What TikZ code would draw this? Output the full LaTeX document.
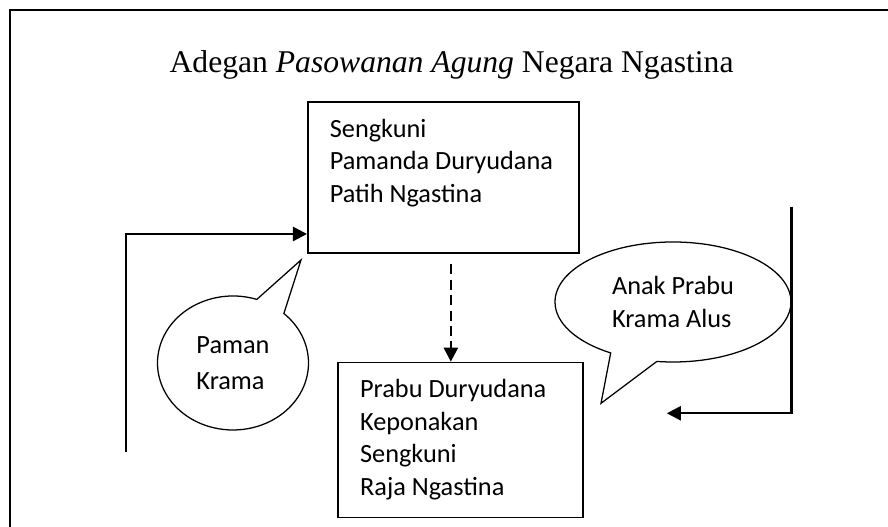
\documentclass[tikz,border=0pt]{standalone}
\usepackage{fontspec}
\setmainfont{Liberation Serif}
\newfontfamily\isi{Carlito}
\usetikzlibrary{arrows.meta,shapes.callouts,positioning}

\tikzset{
  kotak/.style={draw, line width=1.2pt, inner xsep=0.55cm, inner ysep=0.425cm,
    anchor=north west, font=\isi\fontsize{18.7}{23.1}\selectfont},
  gelembung/.style={ellipse callout, draw, line width=0.9pt, inner sep=0pt,
    callout pointer arc=24, align=left},
  panah/.style={line width=1.7pt, -{Triangle[length=10pt,width=10pt]}},
}

\begin{document}
\begin{tikzpicture}
        \useasboundingbox (0,0) rectangle (22.2,13.175);
        % Frame (only top and left edges show)
        \draw [line width=1.3pt] (0.25,0) |- (22.2,12.925);
        % Title
        \node[anchor=base, font=\fontsize{22.5}{27}\selectfont] (judul) at (11.29,11.36)
            {Adegan \textit{Pasowanan Agung} Negara Ngastina};
        % Boxes
        \node[kotak] (sengkuni) at (7.675,10.65)
            {\parbox[c][2.925cm][t]{5.675cm}{Sengkuni\\Pamanda Duryudana\\Patih Ngastina}};
        \node[kotak] (prabu) at (8.4325,4.1325)
            {\parbox[c][3.025cm][t]{5.025cm}{Prabu Duryudana\\Keponakan\\Sengkuni\\Raja Ngastina}};
        % Speech bubbles
        \coordinate (ujungpaman) at (7.525,6.675);
        \coordinate (ujunganak) at (15.025,3.0925);
        \node[gelembung, minimum width=3.775cm, minimum height=3.35cm,
            callout absolute pointer=(ujungpaman),
            font=\isi\fontsize{18.7}{25.6}\selectfont] (paman) at (5.825,4.1) {Paman\\Krama};
        \node[gelembung, minimum width=5.9cm, minimum height=3cm,
            callout absolute pointer=(ujunganak),
            font=\isi\fontsize{18.7}{23.7}\selectfont] (anak) at (16.825,5.625) {Anak Prabu\\Krama Alus};
        % Connectors
        \coordinate (kiri) at (3.15,1.8825);
        \draw [panah] (kiri) |- ([yshift=0.4925cm]sengkuni.south west);
        \coordinate (kanan) at (19.79,8.0075);
        \coordinate (kananujung) at (16.67,2.8425);
        \draw [panah] (kanan) |- (kananujung);
        \draw [panah, dash pattern=on 0.25cm off 0.135cm]
            ([xshift=0.1875cm,yshift=-0.27cm]sengkuni.south) -- ([xshift=0.1875cm]sengkuni.south |- prabu.north);
\end{tikzpicture}
\end{document}
